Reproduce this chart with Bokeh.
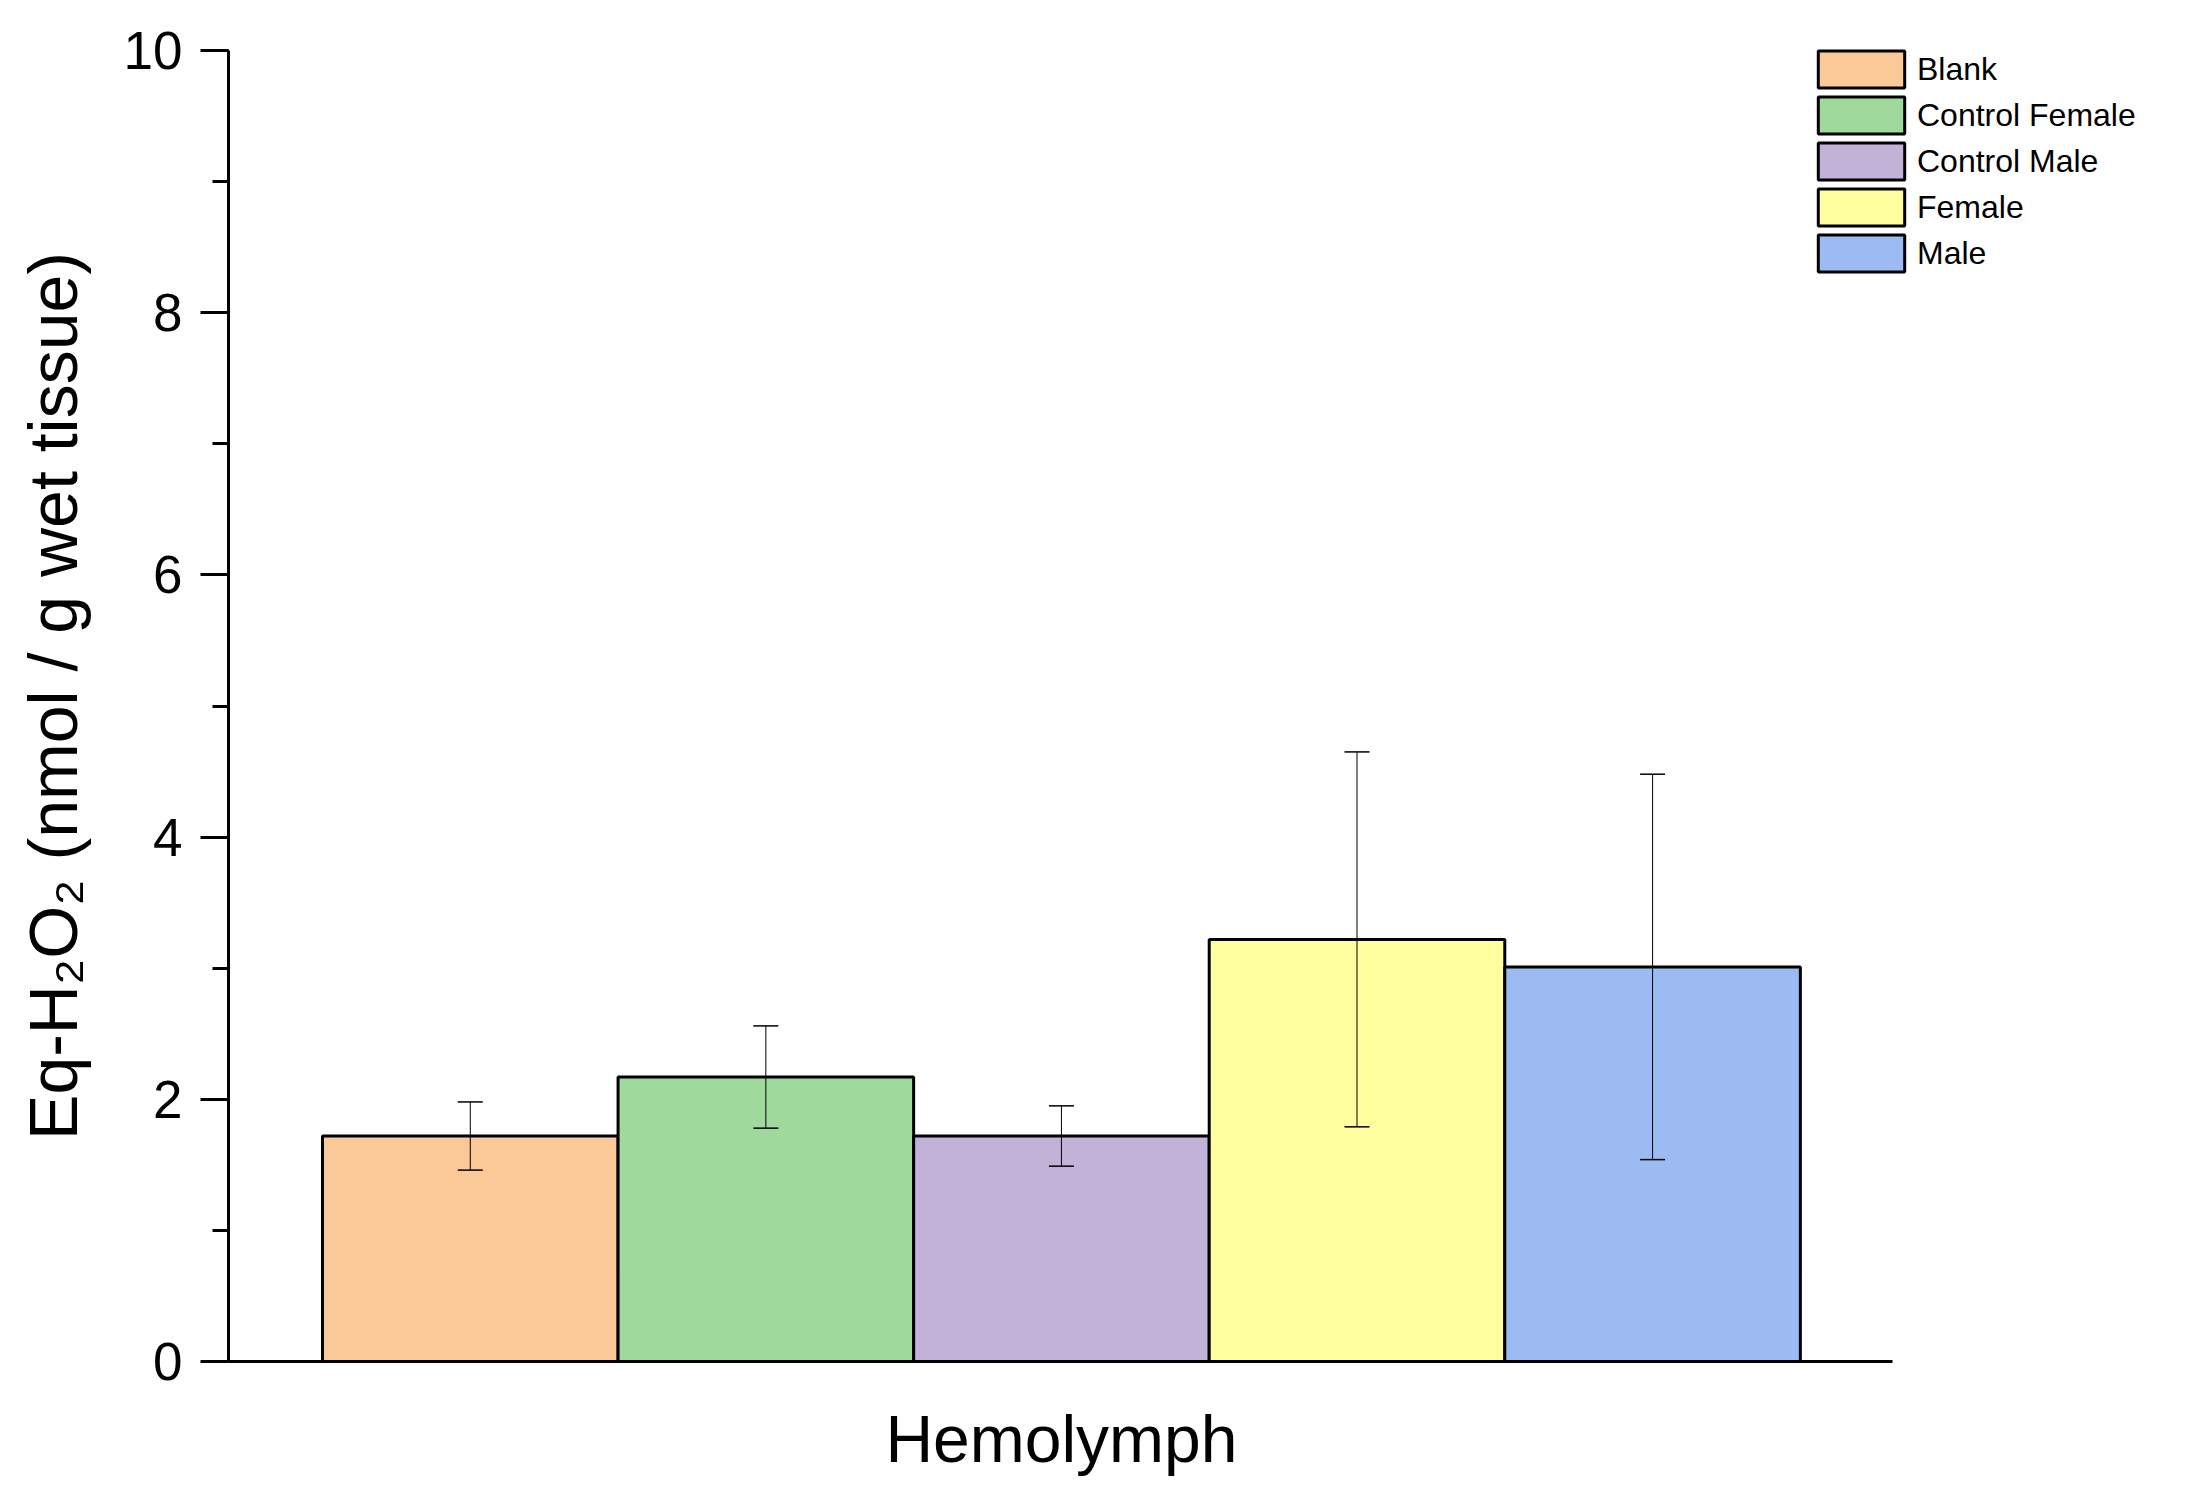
from bokeh.plotting import figure
from bokeh.models import (ColumnDataSource, Whisker, TeeHead, Legend, LegendItem,
                          SingleIntervalTicker, FixedTicker, Range1d)
from bokeh.embed import file_html
from bokeh.resources import INLINE

# ---- data ----
categories = ["Blank", "Control Female", "Control Male", "Female", "Male"]
values = [1.72, 2.17, 1.72, 3.22, 3.01]
errors = [0.26, 0.39, 0.23, 1.43, 1.47]
colors = ["#FBC898", "#9FD99B", "#C2B2D7", "#FFFFA0", "#9CBBF3"]
group_label = "Hemolymph"
y_label = "Eq-H\u2082O\u2082 (nmol / g wet tissue)"
y_min, y_max = 0, 10

positions = list(range(1, len(categories) + 1))
source = ColumnDataSource(dict(
    x=positions,
    top=values,
    upper=[v + e for v, e in zip(values, errors)],
    lower=[v - e for v, e in zip(values, errors)],
    color=colors,
    name=categories,
))

FONT = "Liberation Sans"
W, H = 2190, 1484
x_start, x_end, axis_end = 0.182, 6.803, 5.811
y_end = 10.153

p = figure(width=W, height=H, output_backend="svg", toolbar_location=None,
           x_range=Range1d(x_start, x_end), y_range=Range1d(y_min, y_end),
           min_border_left=228, min_border_right=5, min_border_top=30,
           min_border_bottom=123)
p.outline_line_color = None
p.xgrid.visible = False
p.ygrid.visible = False
p.background_fill_color = "white"
p.border_fill_color = "white"

r = p.vbar(x="x", top="top", width=1.0, bottom=0, source=source,
           fill_color="color", line_color="black", line_width=3)

w = Whisker(source=source, base="x", upper="upper", lower="lower",
            line_color="black", line_width=1, level="overlay",
            upper_head=TeeHead(size=25, line_color="black", line_width=1.5),
            lower_head=TeeHead(size=25, line_color="black", line_width=1.5))
p.add_layout(w)

# y axis
ya = p.yaxis[0]
ya.ticker = SingleIntervalTicker(interval=2, num_minor_ticks=2)
ya.bounds = (y_min, y_max)
ya.axis_line_width = 3
ya.axis_line_color = "black"
ya.major_tick_line_width = 3
ya.major_tick_line_color = "black"
ya.major_tick_out = 28
ya.major_tick_in = 0
ya.minor_tick_line_width = 3
ya.minor_tick_line_color = "black"
ya.minor_tick_out = 16
ya.minor_tick_in = 0
ya.major_label_text_font = FONT
ya.major_label_text_font_size = "53px"
ya.major_label_text_color = "black"
ya.major_label_standoff = 18
ya.axis_label = y_label
ya.axis_label_text_font = FONT
ya.axis_label_text_font_size = "68px"
ya.axis_label_text_font_style = "normal"
ya.axis_label_text_color = "black"
ya.axis_label_standoff = 30

# x axis
xa = p.xaxis[0]
center = sum(positions) / len(positions)
xa.ticker = FixedTicker(ticks=[center])
xa.major_label_overrides = {center: group_label}
xa.bounds = (x_start, axis_end)
xa.axis_line_width = 3
xa.axis_line_color = "black"
xa.major_tick_line_color = None
xa.minor_tick_line_color = None
xa.major_tick_out = 0
xa.major_tick_in = 0
xa.major_label_text_font = FONT
xa.major_label_text_font_size = "66px"
xa.major_label_text_color = "black"
xa.major_label_standoff = 40

legend = Legend(
    items=[LegendItem(label=c, renderers=[r], index=i) for i, c in enumerate(categories)],
    location=(1579, 1085), orientation="vertical",
    glyph_width=108, glyph_height=46, spacing=0, padding=0, margin=0,
    label_standoff=2, label_height=20,
    label_text_font=FONT, label_text_font_size="32px", label_text_color="black",
    background_fill_alpha=0, border_line_alpha=0,
)
p.add_layout(legend)

open("out.html", "w").write(file_html(p, INLINE))
